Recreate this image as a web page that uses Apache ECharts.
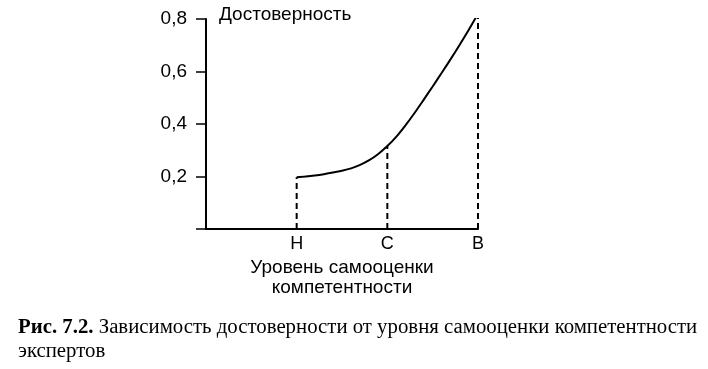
<!DOCTYPE html>
<html><head><meta charset="utf-8">
<script src="https://cdn.jsdelivr.net/npm/echarts@6/dist/echarts.min.js"></script>
<style>html,body{margin:0;padding:0;background:#fff}#c{width:708px;height:369px}</style>
</head><body><div id="c"></div>
<script>
const yTicks = [0, 0.2, 0.4, 0.6, 0.8];
const levelNames = ['Н', 'С', 'В'];
const levelX = [1, 2, 3];
const levelY = [0.197, 0.316, 0.82];
const curveX = [1.0, 1.1, 1.2, 1.3, 1.4, 1.5, 1.6, 1.7, 1.8, 1.9, 2.0, 2.1, 2.2, 2.3, 2.4, 2.5, 2.6, 2.7, 2.8, 2.9, 3.0];
const curveY = [0.197, 0.200, 0.204, 0.209, 0.215, 0.222, 0.231, 0.244, 0.262, 0.286, 0.316, 0.352, 0.395, 0.442, 0.492, 0.543, 0.595, 0.648, 0.703, 0.760, 0.82];

const font = 'Liberation Sans, Arial, sans-serif';
const serif = 'Liberation Serif, Times New Roman, serif';
const chart = echarts.init(document.getElementById('c'));
const dashSeries = levelX.map((x, i) => ({
  type: 'line', data: [[x, 0], [x, levelY[i]]], symbol: 'none', silent: true,
  lineStyle: { color: '#000', width: 2, type: [6, 4] }
}));
chart.setOption({
  animation: false,
  title: {
    left: 13, top: 311, padding: 5,
    text: '{b|Рис. 7.2.} Зависимость достоверности от уровня самооценки компетентности\nэкспертов',
    textStyle: {
      fontFamily: serif, fontSize: 20.8, fontWeight: 'normal', color: '#000', lineHeight: 24,
      rich: { b: { fontFamily: serif, fontSize: 20.8, fontWeight: 'bold', color: '#000', lineHeight: 24 } }
    }
  },
  grid: { left: 206, right: 230, top: 19, bottom: 140 },
  xAxis: {
    type: 'value', min: 0, max: 3, interval: 1,
    axisLine: { lineStyle: { color: '#000', width: 2 } },
    axisTick: { show: false }, splitLine: { show: false },
    axisLabel: {
      color: '#000', fontFamily: font, fontSize: 18, margin: 6,
      formatter: v => { const i = levelX.indexOf(v); return i >= 0 ? levelNames[i] : ''; }
    },
    name: 'Уровень самооценки\nкомпетентности', nameLocation: 'middle', nameGap: 29,
    nameTextStyle: { color: '#000', fontFamily: font, fontSize: 19, lineHeight: 20, verticalAlign: 'top' }
  },
  yAxis: {
    type: 'value', min: 0, max: 0.8, interval: 0.2,
    axisLine: { show: true, lineStyle: { color: '#000', width: 2 } },
    axisTick: { show: true, length: 10, lineStyle: { color: '#000', width: 1.5 } },
    splitLine: { show: false },
    axisLabel: {
      color: '#000', fontFamily: font, fontSize: 19, margin: 19,
      formatter: v => v === 0 ? '' : v.toFixed(1).replace('.', ',')
    },
    name: 'Достоверность', nameLocation: 'end', nameGap: 4,
    nameTextStyle: { color: '#000', fontFamily: font, fontSize: 19, align: 'left', verticalAlign: 'middle', padding: [0, 0, 0, 13] }
  },
  series: [{
    type: 'line', data: curveX.map((x, i) => [x, curveY[i]]), smooth: 0.3, symbol: 'none',
    lineStyle: { color: '#000', width: 2 }
  }].concat(dashSeries)
});
</script></body></html>
